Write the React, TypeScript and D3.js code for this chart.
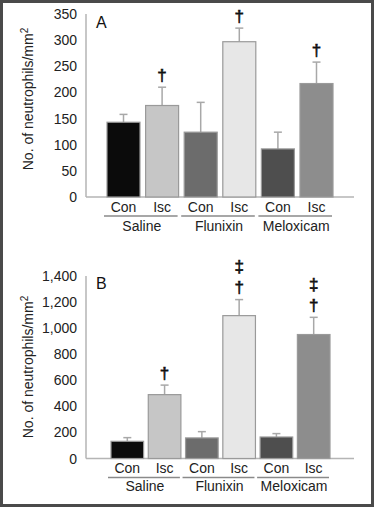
import React from "react";
import * as d3 from "d3";

const categories = ["Con", "Isc", "Con", "Isc", "Con", "Isc"];
const groups = ["Saline", "Flunixin", "Meloxicam"];
const barColors = ["#0b0b0b", "#c6c6c6", "#6c6c6c", "#e7e7e7", "#4e4e4e", "#8d8d8d"];

const valuesA = [143, 175, 124, 297, 92, 217];
const errorsA = [15, 35, 57, 26, 32, 41];
const marksA = [[], ["†"], [], ["†"], [], ["†"]];
const ticksA = [0, 50, 100, 150, 200, 250, 300, 350];

const valuesB = [132, 490, 158, 1096, 165, 951];
const errorsB = [28, 73, 48, 123, 26, 132];
const marksB = [[], ["†"], [], ["‡", "†"], [], ["‡", "†"]];
const ticksB = [0, 200, 400, 600, 800, 1000, 1200, 1400];

const FONT = "'Liberation Sans', Arial, Helvetica, sans-serif";

type PanelProps = {
  letter: string;
  values: number[];
  errors: number[];
  marks: string[][];
  ticks: number[];
  yMax: number;
  yTop: number;
  yZero: number;
  xRange: [number, number];
  padInner: number;
  letterY: number;
  catY: number;
  lineY: number;
  groupY: number;
  titleY: number;
};

function Panel(p: PanelProps) {
  const keys = categories.map((_, i) => String(i));
  const x = d3.scaleBand<string>().domain(keys).range(p.xRange).paddingInner(p.padInner).paddingOuter(0);
  const y = d3.scaleLinear().domain([0, p.yMax]).range([p.yZero, p.yTop]);
  const fmt = d3.format(",");
  const axisX = 86;
  const bw = x.bandwidth();
  return (
    <g>
      {/* y axis */}
      <line x1={axisX} x2={axisX} y1={y(p.yMax)} y2={y(0)} stroke="#b5b5b5" strokeWidth={1.5} />
      <line x1={axisX} x2={354} y1={y(0)} y2={y(0)} stroke="#b5b5b5" strokeWidth={1.5} />
      {p.ticks.map((t) => (
        <text key={t} x={77} y={y(t)} dy="0.36em" textAnchor="end" fontSize={14} fontFamily={FONT} fill="#222">
          {fmt(t)}
        </text>
      ))}
      <text
        transform={`translate(33,${p.titleY}) rotate(-90)`}
        textAnchor="middle"
        fontSize={14}
        fontFamily={FONT}
        fill="#222"
      >
        No. of neutrophils/mm
        <tspan dy={-5} fontSize={10}>2</tspan>
      </text>
      <text x={96} y={p.letterY} fontSize={16} fontFamily={FONT} fill="#111">
        {p.letter}
      </text>
      {/* bars */}
      {p.values.map((v, i) => {
        const x0 = x(String(i)) as number;
        const cx = x0 + bw / 2;
        const top = y(p.values[i] + p.errors[i]);
        return (
          <g key={i}>
            <line x1={cx} x2={cx} y1={y(v)} y2={top} stroke="#a8a8a8" strokeWidth={1.5} />
            <line x1={cx - 4} x2={cx + 4} y1={top} y2={top} stroke="#a8a8a8" strokeWidth={1.5} />
            <rect x={x0} y={y(v)} width={bw} height={y(0) - y(v)} fill={barColors[i]} stroke="#9a9a9a" strokeWidth={1.2} />
            {p.marks[i].map((m, j) => {
              const n = p.marks[i].length;
              return (
                <text
                  key={j}
                  x={cx}
                  y={top - 6.5 - (n - 1 - j) * 21}
                  textAnchor="middle"
                  fontSize={17}
                  fontFamily={FONT}
                  fill="#111"
                  stroke="#111"
                  strokeWidth={0.6}
                >
                  {m}
                </text>
              );
            })}
            <text x={cx} y={p.catY} textAnchor="middle" fontSize={14} fontFamily={FONT} fill="#222">
              {categories[i]}
            </text>
          </g>
        );
      })}
      {groups.map((g, k) => {
        const a = x(String(k * 2)) as number;
        const b = (x(String(k * 2 + 1)) as number) + bw;
        return (
          <g key={g}>
            <line x1={a - 3} x2={b - 1} y1={p.lineY} y2={p.lineY} stroke="#8a8a8a" strokeWidth={1.5} />
            <text x={(a + b) / 2 - 1} y={p.groupY} textAnchor="middle" fontSize={14} fontFamily={FONT} fill="#222">
              {g}
            </text>
          </g>
        );
      })}
    </g>
  );
}

export default function App() {
  return (
    <svg
      width={374}
      height={507}
      style={{ position: "absolute", left: 0, top: 0, display: "block", background: "#fff" }}
    >
      <rect x={1.5} y={1.5} width={371} height={504} fill="#fff" stroke="#4a4a4a" strokeWidth={3} />
      <Panel
        letter="A"
        values={valuesA}
        errors={errorsA}
        marks={marksA}
        ticks={ticksA}
        yMax={350}
        yTop={14}
        yZero={197}
        xRange={[107, 333]}
        padInner={0.145}
        letterY={28}
        catY={212}
        lineY={216}
        groupY={231}
        titleY={99}
      />
      <Panel
        letter="B"
        values={valuesB}
        errors={errorsB}
        marks={marksB}
        ticks={ticksB}
        yMax={1400}
        yTop={276}
        yZero={458.5}
        xRange={[111, 330]}
        padInner={0.125}
        letterY={289}
        catY={473}
        lineY={477.5}
        groupY={491}
        titleY={367}
      />
    </svg>
  );
}
